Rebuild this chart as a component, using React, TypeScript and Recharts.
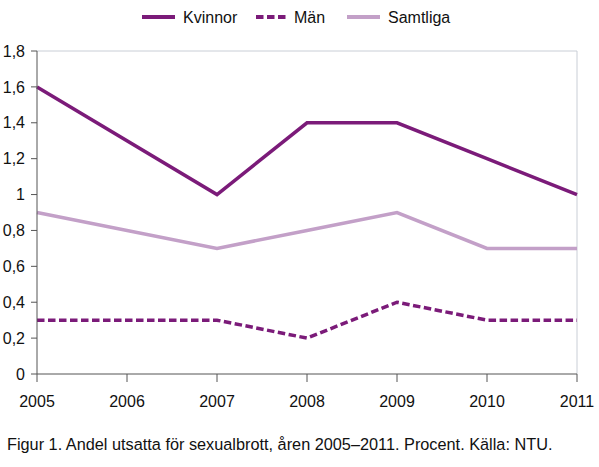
import React from "react";
import { LineChart, Line, XAxis, YAxis, Legend, ReferenceLine } from "recharts";

const years = [2005, 2007, 2008, 2009, 2010, 2011];
const kvinnor = [1.6, 1.0, 1.4, 1.4, 1.2, 1.0];
const man = [0.3, 0.3, 0.2, 0.4, 0.3, 0.3];
const samtliga = [0.9, 0.7, 0.8, 0.9, 0.7, 0.7];
const xTicks = [2005, 2006, 2007, 2008, 2009, 2010, 2011];
const yTicks = [0, 0.2, 0.4, 0.6, 0.8, 1, 1.2, 1.4, 1.6, 1.8];

const data = years.map((y, i) => ({
  year: y,
  Kvinnor: kvinnor[i],
  Män: man[i],
  Samtliga: samtliga[i],
}));

const DARK = "#7b1b79";
const LIGHT = "#c3a0c8";
const FONT = "'Liberation Sans', Arial, Helvetica, sans-serif";

const legendItems = [
  { name: "Kvinnor", color: DARK, dash: undefined as string | undefined, iconX: 142, textX: 183 },
  { name: "Män", color: DARK, dash: "7.5 3.5", iconX: 256, textX: 294 },
  { name: "Samtliga", color: LIGHT, dash: undefined as string | undefined, iconX: 347, textX: 388 },
];

const LegendContent = () => (
  <svg width={599} height={30} style={{ display: "block" }}>
    {legendItems.map((it) => (
      <g key={it.name}>
        <line
          x1={it.iconX}
          x2={it.iconX + 33}
          y1={17}
          y2={17}
          stroke={it.color}
          strokeWidth={4}
          strokeDasharray={it.dash}
        />
        <text x={it.textX} y={23} fontSize={16} fontFamily={FONT} fill="#111">
          {it.name}
        </text>
      </g>
    ))}
  </svg>
);

const fmt = (v: number) => String(Math.round(v * 10) / 10).replace(".", ",");

export default function App() {
  return (
    <div style={{ position: "absolute", left: 0, top: 0, width: 599, height: 467, background: "#fff" }}>
      <LineChart
        width={599}
        height={430}
        data={data}
        margin={{ top: 51, right: 22, left: 0, bottom: 0 }}
        style={{ fontFamily: FONT }}
      >
        <ReferenceLine y={1.8} stroke="#c9ced6" strokeWidth={1} ifOverflow="extendDomain" />
        <ReferenceLine x={2011} stroke="#c9ced6" strokeWidth={1} />
        <XAxis
          dataKey="year"
          type="number"
          domain={[2005, 2011]}
          ticks={xTicks}
          interval={0}
          height={56}
          tickSize={8}
          tickMargin={14}
          stroke="#555"
          tick={{ fill: "#111", fontSize: 16, fontFamily: FONT }}
          allowDecimals={false}
        />
        <YAxis
          type="number"
          domain={[0, 1.8]}
          ticks={yTicks}
          interval={0}
          width={37}
          tickSize={6}
          tickMargin={6}
          stroke="#555"
          tickFormatter={fmt}
          tick={{ fill: "#111", fontSize: 16, fontFamily: FONT }}
        />
        <Legend
          layout="horizontal"
          verticalAlign="middle"
          align="center"
          wrapperStyle={{ top: 0, left: 0, width: 599, height: 30 }}
          content={<LegendContent />}
        />
        <Line
          type="linear"
          dataKey="Samtliga"
          stroke={LIGHT}
          strokeWidth={3.5}
          dot={false}
          activeDot={false}
          isAnimationActive={false}
        />
        <Line
          type="linear"
          dataKey="Män"
          stroke={DARK}
          strokeWidth={3.5}
          strokeDasharray="7.5 3.5"
          dot={false}
          activeDot={false}
          isAnimationActive={false}
        />
        <Line
          type="linear"
          dataKey="Kvinnor"
          stroke={DARK}
          strokeWidth={3.5}
          dot={false}
          activeDot={false}
          isAnimationActive={false}
        />
      </LineChart>
      <div
        style={{
          position: "absolute",
          left: 7,
          top: 435,
          fontFamily: FONT,
          fontSize: 16.3,
          color: "#111",
          whiteSpace: "nowrap",
        }}
      >
        Figur 1. Andel utsatta för sexualbrott, åren 2005–2011. Procent. Källa: NTU.
      </div>
    </div>
  );
}
